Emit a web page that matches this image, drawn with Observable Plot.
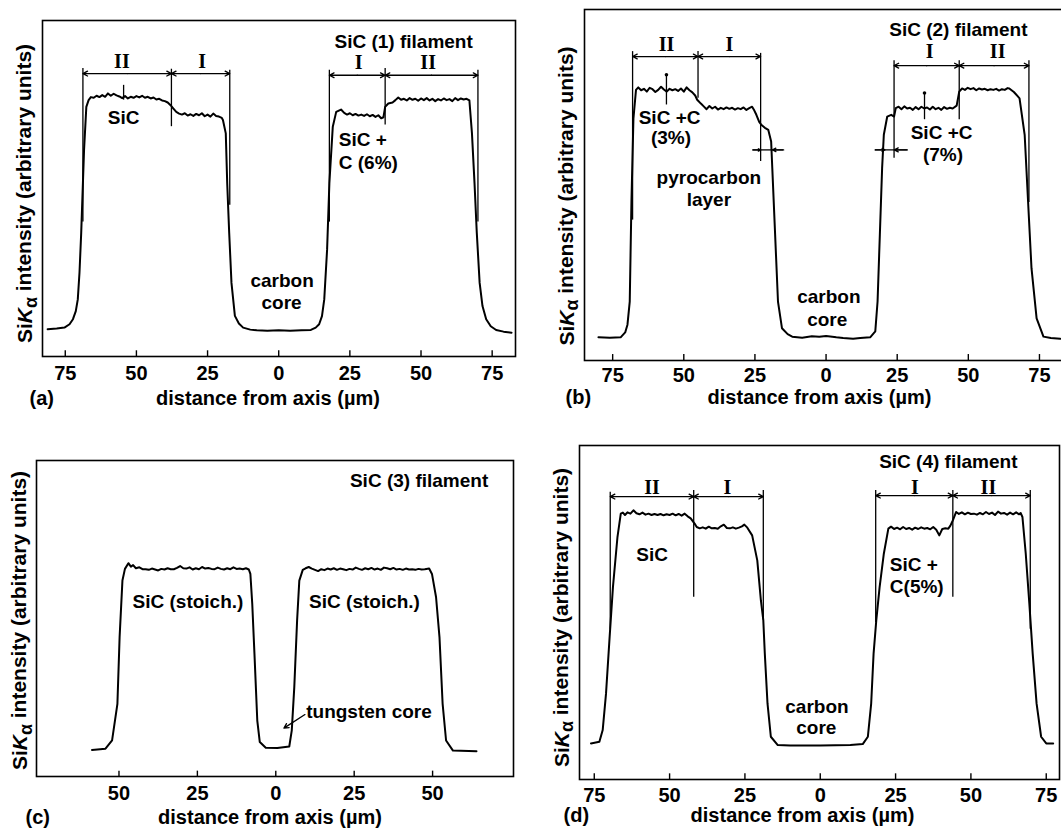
<!DOCTYPE html>
<html><head><meta charset="utf-8">
<script src="https://cdn.jsdelivr.net/npm/d3@7"></script>
<script src="https://cdn.jsdelivr.net/npm/@observablehq/plot@0.6"></script>
<style>
body{margin:0;background:#fff;overflow:hidden}
#fig{position:relative;width:1061px;height:831px;overflow:hidden;background:#fff}
.panel{position:absolute}
</style></head><body><div id="fig"></div>
<script>
// ---------- data ----------
const xTicksWide = [-75, -50, -25, 0, 25, 50, 75];
const xTicksNarrow = [-50, -25, 0, 25, 50];
const xTitle = "distance from axis (µm)";
const yTitle = "SiKα intensity (arbitrary units)";
const panelTags = ["(a)", "(b)", "(c)", "(d)"];
const filamentNames = ["SiC (1) filament", "SiC (2) filament", "SiC (3) filament", "SiC (4) filament"];

// [distance (µm, signed), Si Kα intensity (arb.)]
const profileA = [[-81.2,8.1],[-78,8.3],[-75.3,8.6],[-73.5,9.6],[-72.3,11.1],[-71.3,13.5],[-70.6,17.0],[-70.0,25],[-69.4,36.8],[-68.4,61.5],[-67.6,74.3],[-66.8,76.3],[-66,77.2],[-65,77.0],[-64,77.6],[-63,77.2],[-62,77.8],[-61,77.3],[-60,78.3],[-59,77.6],[-58,78.2],[-57,77.7],[-56,77.4],[-55,76.9],[-54,77.5],[-53,76.8],[-52,77.3],[-51,77.0],[-50,77.5],[-49,77.1],[-48,77.6],[-47,77.0],[-46,77.3],[-45,76.8],[-44,77.1],[-43,76.5],[-42,76.7],[-41,76.2],[-40,76.0],[-39,75.6],[-38,74.8],[-37,73.8],[-36,72.8],[-35,72.3],[-34,72.0],[-33,72.4],[-32,71.7],[-31,72.1],[-30,71.6],[-29,72.2],[-28,71.8],[-27,72.4],[-26,71.5],[-25,72.0],[-24,71.4],[-23,72.3],[-22,71.6],[-21,71.4],[-20,71.0],[-19.6,70.4],[-18.6,66.4],[-18.1,51.6],[-17.4,36.8],[-16.6,21.9],[-15.4,12.1],[-14,9.8],[-12.5,8.6],[-10,8.0],[-7.7,7.8],[-4,7.7],[0,7.8],[4,7.7],[8,7.8],[11.3,7.9],[13,8.6],[14.2,9.6],[15.2,12],[16.0,17.0],[17.0,31.8],[17.8,51.6],[19.0,68.4],[20.2,72.8],[21.9,73.5],[23,72.5],[24,72.0],[25,72.4],[26,71.8],[27,72.2],[28,71.7],[29,72.0],[30,71.6],[31,72.1],[32,71.5],[33,71.9],[34,71.3],[35,71.8],[36,70.9],[36.8,71.2],[37.4,74.3],[38.5,75.3],[40,75.6],[41,76.3],[42,77.1],[43,76.4],[44,76.7],[45,76.2],[46,76.9],[47,76.4],[48,76.7],[49,76.1],[50,76.8],[51,76.3],[52,76.9],[53,76.2],[54,76.7],[55,76.0],[56,76.6],[57,76.2],[58,76.8],[59,76.3],[60,76.6],[61,76.0],[62,76.9],[63,76.3],[64,76.8],[65,76.5],[66,76.7],[67,76.2],[67.9,66.4],[68.8,51.6],[69.6,36.8],[70.6,21.9],[71.6,15],[72.9,11.1],[74.5,9],[76.4,7.9],[79,7.4],[81.8,7.1]];

const profileB = [[-80.0,6.6],[-76,6.5],[-72.2,6.6],[-70.6,8.0],[-69.8,10.2],[-69.0,16.8],[-68.4,45.3],[-67.7,69.0],[-66.8,77.1],[-66,77.8],[-65,77.0],[-64,77.4],[-63,76.6],[-62,77.7],[-61,77.3],[-60,76.5],[-59,77.1],[-58,78.0],[-57,77.2],[-56,76.6],[-55,77.4],[-54,77.0],[-53,77.3],[-52,76.8],[-51,77.5],[-50,76.6],[-49,77.8],[-48,77.0],[-47,76.4],[-46,75.5],[-45.3,74.3],[-44,73.2],[-43,72.4],[-42,71.6],[-41,72.5],[-40,71.8],[-39,72.3],[-38,71.5],[-37,72.0],[-36,71.6],[-35,72.1],[-34,71.7],[-33,72.0],[-32,71.5],[-31,71.9],[-30,71.6],[-29,72.1],[-28,71.4],[-27,71.9],[-26,72.3],[-25.2,71.2],[-24.5,70.0],[-23.5,68.0],[-22.7,67.1],[-21.5,66.3],[-20.3,65.7],[-19.3,62.4],[-18.9,54.8],[-17.9,35.8],[-16.9,16.8],[-15.5,9.2],[-13.5,7.5],[-11.9,6.8],[-8.4,6.5],[-5,6.9],[-2.4,6.8],[0,7.0],[3.6,6.6],[6,6.4],[9.5,6.2],[12,6.4],[15.5,6.6],[17.3,8.3],[18.1,16.8],[18.9,35.8],[19.7,54.8],[20.3,64.3],[21.5,69.5],[22.9,70.0],[23.9,69.5],[24.5,71.9],[25.5,72.3],[26.5,71.6],[27.5,72.4],[28.5,71.8],[29.5,72.0],[30.5,71.4],[31.5,72.2],[32.5,71.6],[33.5,72.3],[34.5,71.8],[35.5,72.1],[36.5,71.5],[37.5,72.3],[38.5,71.6],[39.5,72.0],[40.5,71.4],[41.5,72.2],[42.5,71.7],[43.5,72.0],[44.5,71.8],[45.9,72.6],[46.8,76.6],[47.8,77.5],[48.8,77.1],[49.8,77.7],[50.8,77.3],[51.8,77.6],[52.8,77.0],[53.8,77.5],[54.8,77.2],[55.8,77.4],[56.8,77.0],[57.8,77.3],[58.8,77.1],[59.8,77.4],[60.8,76.9],[61.8,77.3],[62.8,77.1],[63.8,77.6],[64.4,77.5],[66,76.5],[68.0,74.7],[69.8,64.3],[71.0,45.3],[72.2,26.3],[74.0,12.0],[76.4,6.8],[79,6.4],[82.3,6.2]];

const profileC = [[-58.6,8.4],[-54.3,8.8],[-52.2,11.4],[-50.5,23.0],[-49.8,44.1],[-48.9,62.0],[-48.1,65.7],[-47.0,67.5],[-46.2,66.4],[-45.5,66.9],[-44.6,65.9],[-43.5,66.2],[-42.5,65.6],[-41.5,65.6],[-40.5,65.4],[-39.5,65.8],[-38.5,65.5],[-37.5,65.2],[-36.5,65.7],[-35.5,65.5],[-34.5,65.9],[-33.5,65.6],[-32.5,65.6],[-31.5,66.0],[-30.5,66.6],[-29.5,65.9],[-28.5,65.8],[-27.5,66.2],[-26.5,65.5],[-25.5,65.9],[-24.5,65.6],[-23.5,66.3],[-22.5,65.8],[-21.5,66.0],[-20.5,65.7],[-19.5,65.6],[-18.5,66.1],[-17.5,65.7],[-16.5,65.5],[-15.5,65.9],[-14.5,65.6],[-13.5,66.2],[-12.5,65.7],[-11.5,65.8],[-10.5,65.6],[-9.5,65.9],[-8.6,65.5],[-8.1,64.1],[-7.5,54.6],[-6.8,38.8],[-5.9,17.7],[-5.1,10.9],[-3.2,9.1],[0.5,9.0],[4.3,9.5],[5.1,14.6],[5.9,28.3],[6.8,49.4],[7.5,62.0],[8.6,65.4],[9.5,65.9],[10.5,66.3],[11.5,65.8],[12.5,65.4],[13.5,65.0],[14.5,65.6],[15.5,65.3],[16.5,65.8],[17.5,65.5],[18.5,65.9],[19.5,65.4],[20.5,65.8],[21.5,65.6],[22.5,65.3],[23.5,65.7],[24.5,65.5],[25.5,66.1],[26.5,65.7],[27.5,65.4],[28.5,65.9],[29.5,65.6],[30.5,66.0],[31.5,65.5],[32.5,65.8],[33.5,65.4],[34.5,66.1],[35.5,65.9],[36.5,65.6],[37.5,66.0],[38.5,65.5],[39.5,65.7],[40.5,65.4],[41.5,65.8],[42.5,65.5],[43.5,65.6],[44.5,65.4],[45.5,65.7],[46.5,65.5],[47.5,65.6],[48.9,65.8],[49.8,64.1],[51.1,56.8],[52.2,44.1],[53.2,23.0],[54.3,11.4],[56.5,8.2],[64.0,8.0]];

const profileD = [[-76.1,10.8],[-73.3,11.3],[-72.2,14.8],[-71.1,25.7],[-69.9,42.7],[-68.8,57.6],[-67.3,72.6],[-66.2,79.6],[-65.5,79.9],[-64.8,79.2],[-64,80.0],[-63,79.6],[-62,80.6],[-61,79.7],[-60,79.4],[-59,79.9],[-58,79.3],[-57,79.6],[-56,79.2],[-55,79.5],[-54,79.2],[-53,79.5],[-52,79.1],[-51,79.4],[-50,79.2],[-49,79.6],[-48,79.1],[-47,79.5],[-46,79.0],[-45,79.6],[-44,78.8],[-43,78.2],[-41.7,76.6],[-41,75.6],[-40,75.2],[-39,75.5],[-38,75.1],[-37,75.7],[-36,75.2],[-35,75.3],[-34,75.1],[-33,75.8],[-32,76.3],[-31,75.3],[-30,75.2],[-29,75.5],[-28,75.1],[-27,75.4],[-26,75.8],[-25.2,76.3],[-24.2,75.4],[-22.6,73.1],[-20.9,65.6],[-19.7,53.6],[-18.9,47.7],[-18.4,37.7],[-17.5,22.7],[-16.4,12.8],[-14.1,10.3],[-10,10.2],[0,10.2],[10,10.3],[14.1,10.6],[15.8,12.8],[16.9,22.7],[17.7,37.7],[18.6,47.7],[19.7,57.6],[21.1,67.6],[22.6,75.1],[23.5,75.7],[24.5,75.0],[25.5,75.4],[26.5,74.9],[27.5,75.6],[28.5,75.0],[29.5,75.3],[30.5,74.8],[31.5,75.4],[32.5,75.0],[33.5,75.5],[34.5,75.1],[35.5,75.3],[36.5,74.9],[37.5,75.6],[38.5,74.8],[39.5,73.1],[40.5,75.0],[41.5,75.2],[42.5,75.1],[43.2,76.0],[44.0,77.6],[45.1,80.1],[46,79.5],[47,80.0],[48,79.4],[49,79.9],[50,79.5],[51,79.6],[52,79.3],[53,79.8],[54,79.4],[55,80.1],[56,79.5],[57,79.9],[58,79.2],[59,80.2],[60,79.6],[61,79.8],[62,79.3],[63,79.9],[64,79.4],[65,80.0],[66,79.4],[66.5,79.8],[67.1,78.6],[68.2,67.6],[69.4,52.6],[70.5,37.7],[71.8,22.7],[73.3,12.8],[75.0,10.8],[77.3,10.8]];

// annotations (data coordinates); "a: start" = left-aligned text
const notesA = [{x:43.9,y:93.7,text:filamentNames[0]},{x:-54.5,y:70.9,text:"SiC"},{x:21.1,y:64.4,text:"SiC +",a:"start"},{x:21.1,y:57.5,text:"C (6%)",a:"start"},{x:1.2,y:22.4,text:"carbon"},{x:1.0,y:16.0,text:"core"}];
const zonesA = [{x:-55.1,y:87.8,text:"II"},{x:-26.9,y:87.8,text:"I"},{x:28.1,y:87.5,text:"I"},{x:52.5,y:87.5,text:"II"}];
const bracketsA = [{y:84.2,stops:[-68.8,-37.7,-17.2]},{y:83.7,stops:[17.8,37.4,70.0]}];
const guidesA = [{x:-68.8,y1:85.7,y2:40},{x:-37.7,y1:85.5,y2:68.4},{x:-17.2,y1:85.2,y2:45},{x:17.8,y1:85.2,y2:40},{x:37.4,y1:85.7,y2:68.9},{x:70.0,y1:85.2,y2:40},{x:-54.5,y1:76.3,y2:80.7}];

const notesB = [{x:46.5,y:94.2,text:filamentNames[1]},{x:-55,y:69.0,text:"SiC +C"},{x:-54.5,y:63.3,text:"(3%)"},{x:-41.2,y:51.9,text:"pyrocarbon"},{x:-41.2,y:45.8,text:"layer"},{x:40.6,y:64.8,text:"SiC +C"},{x:41.1,y:58.6,text:"(7%)"},{x:1.0,y:18.2,text:"carbon"},{x:0.4,y:11.6,text:"core"}];
const zonesB = [{x:-56.1,y:89.9,text:"II"},{x:-34.0,y:89.9,text:"I"},{x:36.4,y:88.0,text:"I"},{x:60.3,y:88.0,text:"II"}];
const bracketsB = [{y:86.6,stops:[-68.0,-45.0,-23.0]},{y:84.0,stops:[23.9,46.8,71.3]}];
const guidesB = [{x:-68.0,y1:88,y2:40},{x:-45.0,y1:88,y2:74.7},{x:-23.0,y1:87.5,y2:56.7},{x:23.9,y1:85.4,y2:57.6},{x:46.8,y1:85.4,y2:68.6},{x:71.3,y1:85.4,y2:45},{x:-56.1,y1:72.8,y2:81.4},{x:34.6,y1:68.6,y2:76.2}];
const pointerDotsB = [{x:-56.1,y:81.4},{x:34.6,y:76.2}];
const layerSpansB = [{x1:-25.7,x2:-14.9,y:60},{x1:17.3,x2:28.6,y:60}];
const layerArrowsB = [{x1:-25.7,x2:-23.0,y1:60,y2:60},{x1:-14.9,x2:-18.8,y1:60,y2:60},{x1:17.3,x2:20.7,y1:60,y2:60},{x1:28.6,x2:24.0,y1:60,y2:60}];

const notesC = [{x:45.7,y:93.7,text:filamentNames[2]},{x:-28.0,y:55.2,text:"SiC (stoich.)"},{x:28.3,y:55.2,text:"SiC (stoich.)"},{x:9.7,y:20.4,text:"tungsten core",a:"start"}];
const arrowsC = [{x1:9.3,y1:19.6,x2:2.6,y2:15.3}];

const notesD = [{x:42.5,y:95.0,text:filamentNames[3]},{x:-55.8,y:67.1,text:"SiC"},{x:23.1,y:64.1,text:"SiC +",a:"start"},{x:23.1,y:57.6,text:"C(5%)",a:"start"},{x:-1.1,y:21.7,text:"carbon"},{x:-1.3,y:15.3,text:"core"}];
const zonesD = [{x:-55.8,y:87.5,text:"II"},{x:-30.8,y:87.5,text:"I"},{x:31.4,y:87.3,text:"I"},{x:55.8,y:87.3,text:"II"}];
const bracketsD = [{y:84.7,stops:[-69.7,-42.0,-18.9]},{y:85.0,stops:[18.4,44.0,69.7]}];
const guidesD = [{x:-69.7,y1:86,y2:45},{x:-42.0,y1:86.5,y2:54.6},{x:-18.9,y1:86.5,y2:47.7},{x:18.4,y1:86.5,y2:47},{x:44.0,y1:86.5,y2:54.6},{x:69.7,y1:86.5,y2:45}];

// ---------- layout ----------
const FONT = "'Liberation Sans', Arial, sans-serif";
const SERIF = "'Liberation Serif', 'Times New Roman', serif";
const layout = [
  {left:0, top:0, width:530, height:420, mL:42, mR:15, mT:20, mB:64, dom:[-83.0,83.2], ticks:xTicksWide, tickPad:9, xlabDx:-11, xlabDy:42, tagDx:-13, ylabDx:-17, ylabDy:5},
  {left:530, top:0, width:540, height:420, mL:54, mR:6, mT:9, mB:60, dom:[-84.9,83.8], ticks:xTicksWide, tickPad:7, xlabDx:-5, xlabDy:37, tagDx:-19, ylabDx:-17.6, ylabDy:11},
  {left:0, top:420, width:530, height:411, mL:36, mR:17, mT:40, mB:55, dom:[-76.3,75.8], ticks:xTicksNarrow, tickPad:9, xlabDx:-5, xlabDy:41, tagDx:-11, ylabDx:-16, ylabDy:2},
  {left:530, top:420, width:531, height:411, mL:49, mR:2, mT:25, mB:52, dom:[-79.9,79.4], ticks:xTicksWide, tickPad:8, xlabDx:-17, xlabDy:36, tagDx:-16, ylabDx:-17.6, ylabDy:5}
];
const panels = [
  {profile:profileA, notes:notesA, zones:zonesA, brackets:bracketsA, guides:guidesA},
  {profile:profileB, notes:notesB, zones:zonesB, brackets:bracketsB, guides:guidesB, dots:pointerDotsB, spans:layerSpansB, arrows:layerArrowsB},
  {profile:profileC, notes:notesC, zones:[], brackets:[], guides:[], arrows:arrowsC},
  {profile:profileD, notes:notesD, zones:zonesD, brackets:bracketsD, guides:guidesD}
];

function bracketSegments(brackets) {
  const out = [];
  for (const b of brackets) {
    for (let i = 0; i < b.stops.length - 1; i++) {
      const a = b.stops[i], c = b.stops[i + 1], m = (a + c) / 2;
      out.push({x1: m, x2: a, y: b.y}, {x1: m, x2: c, y: b.y});
    }
  }
  return out;
}

const fig = document.getElementById("fig");
panels.forEach((p, i) => {
  const L = layout[i];
  const txt = {fontSize: 19, fontWeight: "bold"};
  const marks = [
    Plot.frame({stroke: "black", strokeWidth: 1.6}),
    Plot.ruleX(L.ticks, {x: d => d, y1: 0, y2: 1.7, stroke: "black", strokeWidth: 1.4}),
    Plot.axisX(L.ticks, {tickSize: 0, tickPadding: L.tickPad, tickFormat: d => String(Math.abs(d)), fontSize: 20, fontWeight: "bold", label: null}),
    Plot.text([xTitle], {frameAnchor: "bottom", dx: L.xlabDx, dy: L.xlabDy, textAnchor: "middle", lineAnchor: "middle", fontSize: 20, fontWeight: "bold"}),
    Plot.text([panelTags[i]], {frameAnchor: "bottom-left", dx: L.tagDx, dy: L.xlabDy, textAnchor: "start", lineAnchor: "middle", fontSize: 20, fontWeight: "bold"}),
    Plot.text([yTitle], {frameAnchor: "left", rotate: -90, dx: L.ylabDx, dy: L.ylabDy, textAnchor: "middle", lineAnchor: "middle", fontSize: 21, fontWeight: "bold"}),
    Plot.line(p.profile, {x: d => d[0], y: d => d[1], stroke: "black", strokeWidth: 2, strokeLinejoin: "round"}),
    Plot.ruleX(p.guides, {x: "x", y1: "y1", y2: "y2", stroke: "black", strokeWidth: 1.3}),
    Plot.arrow(bracketSegments(p.brackets), {x1: "x1", x2: "x2", y1: "y", y2: "y", stroke: "black", strokeWidth: 1.3, headLength: 6, headAngle: 55}),
    Plot.text(p.zones, {x: "x", y: "y", text: "text", fontFamily: SERIF, fontSize: 20, fontWeight: "bold", lineAnchor: "middle"}),
    Plot.text(p.notes.filter(d => !d.a), {x: "x", y: "y", text: "text", textAnchor: "middle", lineAnchor: "middle", ...txt}),
    Plot.text(p.notes.filter(d => d.a === "start"), {x: "x", y: "y", text: "text", textAnchor: "start", lineAnchor: "middle", ...txt})
  ];
  if (p.spans) marks.push(Plot.ruleY(p.spans, {y: "y", x1: "x1", x2: "x2", stroke: "black", strokeWidth: 1.3}));
  if (p.arrows) marks.push(Plot.arrow(p.arrows, {x1: "x1", x2: "x2", y1: "y1", y2: "y2", stroke: "black", strokeWidth: 1.3, headLength: 6, headAngle: 55}));
  if (p.dots) marks.push(Plot.dot(p.dots, {x: "x", y: "y", r: 1.8, fill: "black"}));
  const svg = Plot.plot({
    width: L.width, height: L.height,
    marginLeft: L.mL, marginRight: L.mR, marginTop: L.mT, marginBottom: L.mB,
    x: {domain: L.dom},
    y: {domain: [0, 100], axis: null},
    style: {fontFamily: FONT, color: "black", background: "white", overflow: "visible"},
    marks
  });
  svg.classList.add("panel");
  svg.style.left = L.left + "px";
  svg.style.top = L.top + "px";
  // rich y label: Si K(italic) α(subscript)
  svg.querySelectorAll("text").forEach(t => {
    if (t.textContent === yTitle) {
      const ns = "http://www.w3.org/2000/svg";
      t.textContent = "";
      const parts = [["Si", {}], ["K", {"font-style": "italic"}], ["α", {"dy": "0.25em", "font-size": "0.85em"}], [" intensity (arbitrary units)", {"dy": "-0.25em"}]];
      for (const [s, attrs] of parts) {
        const ts = document.createElementNS(ns, "tspan");
        for (const k in attrs) ts.setAttribute(k, attrs[k]);
        ts.textContent = s;
        t.appendChild(ts);
      }
    }
  });
  fig.appendChild(svg);
});
</script></body></html>
